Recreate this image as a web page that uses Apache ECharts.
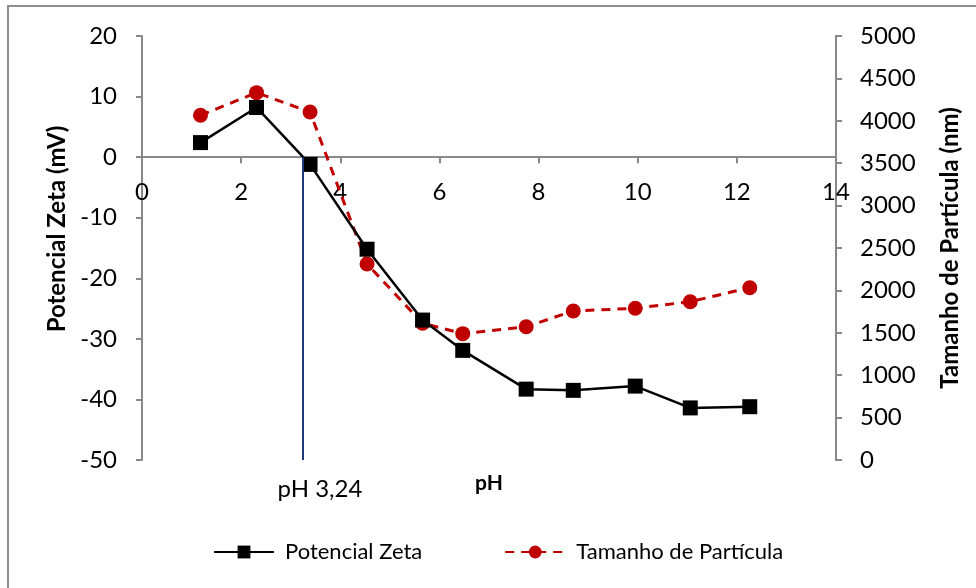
<!DOCTYPE html>
<html>
<head>
<meta charset="utf-8">
<script src="https://cdn.jsdelivr.net/npm/echarts@6/dist/echarts.min.js"></script>
<style>
html,body{margin:0;padding:0;background:#fff;}
#chart{width:976px;height:588px;}
</style>
</head>
<body>
<div id="chart"></div>
<script>
// Data
const phValues = [1.18, 2.31, 3.39, 4.54, 5.66, 6.47, 7.75, 8.70, 9.95, 11.06, 12.26];
const zetaValues = [2.4, 8.2, -1.2, -15.2, -26.9, -31.9, -38.3, -38.5, -37.8, -41.4, -41.2];
const sizeValues = [4065, 4332, 4104, 2311, 1612, 1490, 1572, 1757, 1789, 1867, 2032];
const seriesNames = ['Potencial Zeta', 'Tamanho de Partícula'];
const isoelectricPH = 3.24;
const isoelectricLabel = 'pH 3,24';
const xAxisName = 'pH';
const leftAxisName = 'Potencial Zeta (mV)';
const rightAxisName = 'Tamanho de Partícula (nm)';

const FONT = 'Lato';
const chart = echarts.init(document.getElementById('chart'));

const zetaData = phValues.map((x, i) => [x, zetaValues[i]]);
const sizeData = phValues.map((x, i) => [x, sizeValues[i]]);

const axisGray = '#888888';
const gridTop = 36, gridBottomY = 460;
// zero of the left axis, where the x axis crosses (pixel offset from the grid bottom)
const zeroOffset = (gridBottomY - gridTop) * 20 / 70;
const xAxisOffset = -((gridBottomY - gridTop) - zeroOffset);

chart.setOption({
  animation: false,
  textStyle: { fontFamily: FONT },
  grid: { left: 142, right: 140, top: gridTop, bottom: 588 - gridBottomY, containLabel: false, outerBoundsMode: 'none' },
  xAxis: {
    type: 'value', min: 0, max: 14, interval: 2,
    offset: xAxisOffset,
    axisLine: { onZero: false, lineStyle: { color: axisGray, width: 2 } },
    axisTick: { show: true, inside: false, length: 6, lineStyle: { color: axisGray, width: 2 } },
    axisLabel: { color: '#000', fontSize: 24, fontFamily: FONT, margin: 23 },
    splitLine: { show: false },
    name: xAxisName, nameLocation: 'middle', nameGap: 316,
    nameTextStyle: { color: '#000', fontWeight: 'bold', fontSize: 21, fontFamily: FONT }
  },
  yAxis: [
    {
      type: 'value', min: -50, max: 20, interval: 10, position: 'left',
      axisLine: { show: true, onZero: false, lineStyle: { color: axisGray, width: 2 } },
      axisTick: { show: true, length: 6, lineStyle: { color: axisGray, width: 2 } },
      axisLabel: { color: '#000', fontSize: 24, fontFamily: FONT, margin: 25 },
      splitLine: { show: false },
      name: leftAxisName, nameLocation: 'middle', nameGap: 70, nameRotate: 90,
      nameTextStyle: { color: '#000', fontWeight: 'bold', fontSize: 24, fontFamily: FONT, padding: [0, 0, 0, 38] }
    },
    {
      type: 'value', min: 0, max: 5000, interval: 500, position: 'right',
      axisLine: { show: true, onZero: false, lineStyle: { color: axisGray, width: 2 } },
      axisTick: { show: true, length: 6, lineStyle: { color: axisGray, width: 2 } },
      axisLabel: { color: '#000', fontSize: 24, fontFamily: FONT, margin: 24, formatter: v => String(v) },
      splitLine: { show: false },
      name: rightAxisName, nameLocation: 'middle', nameGap: 102, nameRotate: 90,
      nameTextStyle: { color: '#000', fontWeight: 'bold', fontSize: 24, fontFamily: FONT }
    }
  ],
  legend: {
    bottom: 20, left: 208,
    itemWidth: 60, itemHeight: 16, itemGap: 82,
    textStyle: { color: '#000', fontSize: 22, fontFamily: FONT, padding: [0, 0, 0, 6] },
    data: seriesNames
  },
  graphic: [
    { type: 'rect', shape: { x: 8, y: 6, width: 1200, height: 1200 }, style: { fill: 'none', stroke: '#8c8c8c', lineWidth: 2 }, silent: true, z: -1 },
    { type: 'text', x: 320, y: 489, style: { text: isoelectricLabel, fill: '#000', font: '24px ' + FONT, textAlign: 'center', textVerticalAlign: 'middle' } }
  ],
  series: [
    {
      name: seriesNames[0], type: 'line', yAxisIndex: 0, data: zetaData,
      symbol: 'rect', symbolSize: 15, showSymbol: true,
      lineStyle: { color: '#000', width: 2.5 },
      itemStyle: { color: '#000' },
      z: 3,
      markLine: {
        silent: true, symbol: ['none', 'none'], label: { show: false },
        lineStyle: { color: '#1f3a78', width: 2, type: 'solid' },
        data: [[{ coord: [isoelectricPH, 0] }, { coord: [isoelectricPH, -50] }]]
      }
    },
    {
      name: seriesNames[1], type: 'line', yAxisIndex: 1, data: sizeData,
      symbol: 'circle', symbolSize: 15, showSymbol: true,
      lineStyle: { color: '#c00000', width: 3, type: [9, 7] },
      itemStyle: { color: '#c00000' },
      z: 2
    }
  ]
});
</script>
</body>
</html>
